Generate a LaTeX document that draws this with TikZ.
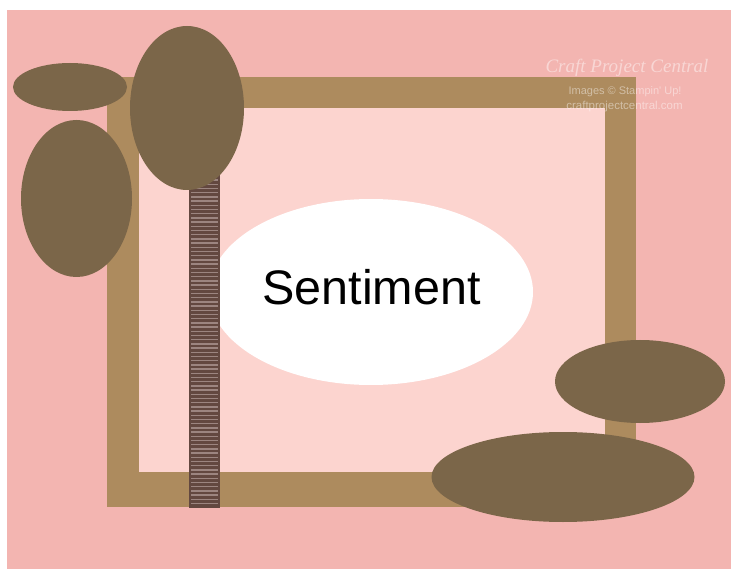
\documentclass[tikz,border=0pt]{standalone}
\usepackage{fontspec}
\newfontfamily\arialf{Liberation Sans}
\newfontfamily\seriff{Liberation Serif}
\definecolor{bgpink}{HTML}{F3B5B1}
\definecolor{innerpink}{HTML}{FCD4CF}
\definecolor{tanframe}{HTML}{AD8B5E}
\definecolor{brownoval}{HTML}{7B6649}
\definecolor{ribbondark}{HTML}{634840}
\definecolor{ribbonlight}{HTML}{9C8580}
\tikzset{
  oval/.style={fill=brownoval},
  mark text/.style={text=white, opacity=0.45, inner sep=0pt},
}
\begin{document}
\begin{tikzpicture}[x=1pt,y=-1pt]
\useasboundingbox (0,0) rectangle (731,569);
\fill[white] (0,0) rectangle (731,569);
% background
\fill[bgpink] (7,10) rectangle (731,569);
% frame
\fill[tanframe] (107,77) rectangle (636,507);
\fill[innerpink] (139,108) rectangle (605,472);
% sentiment oval
\fill[white] (371,292) ellipse (162 and 93);
\node[font=\arialf\fontsize{48.5pt}{58pt}\selectfont, anchor=base, inner sep=0pt] (sent) at (371.5,305) {Sentiment};
% ribbon
\begin{scope}
\clip (189,150) rectangle (220,508);
\fill[ribbondark] (189,150) rectangle (220,508);
\foreach \yy in {150,154.2,...,506} {
  \fill[ribbonlight] (191,\yy) rectangle (218,\yy+1.4);
}
\end{scope}
% ovals
\fill[oval] (70,87) ellipse (57 and 24);
\fill[oval] (187,108) ellipse (57 and 82);
\fill[oval] (76.5,198.5) ellipse (55.5 and 78.5);
\fill[oval] (640,381.5) ellipse (85 and 41.5);
\fill[oval] (563,477) ellipse (131.5 and 45);
% watermark
\node[mark text, font=\seriff\itshape\fontsize{19pt}{22pt}\selectfont] (wm1) at (627,68) {Craft Project Central};
\node[mark text, font=\arialf\fontsize{11pt}{13pt}\selectfont] (wm2) at (625,92) {Images © Stampin' Up!};
\node[mark text, font=\arialf\fontsize{11.5pt}{13pt}\selectfont] (wm3) at (624.5,107) {craftprojectcentral.com};
\end{tikzpicture}
\end{document}
